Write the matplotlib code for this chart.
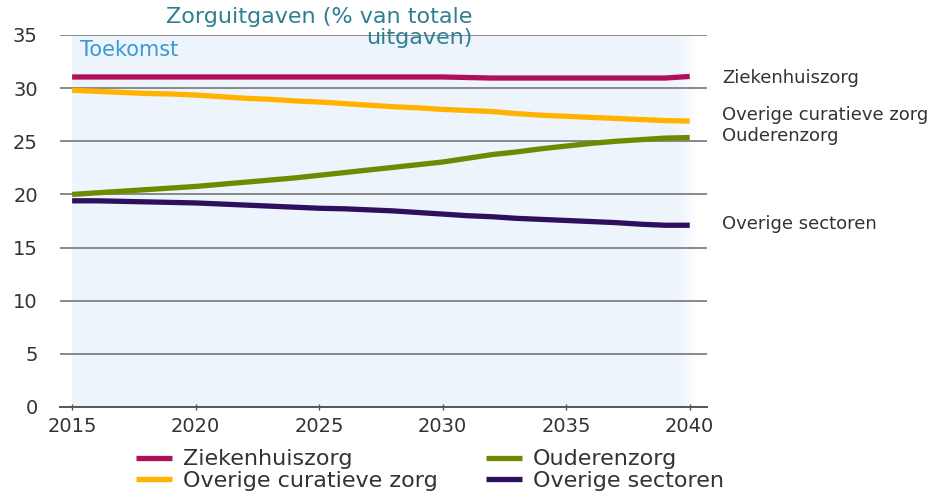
import numpy as np
import matplotlib
matplotlib.use("Agg")
import matplotlib.pyplot as plt

# data
years = list(range(2015, 2041))
ziekenhuiszorg = [31.05, 31.05, 31.05, 31.05, 31.05, 31.05, 31.05, 31.05, 31.05, 31.05,
                  31.05, 31.05, 31.05, 31.05, 31.05, 31.05, 31.0, 30.95, 30.95, 30.95,
                  30.95, 30.95, 30.95, 30.95, 30.95, 31.1]
overige_curatief = [29.8, 29.7, 29.6, 29.5, 29.45, 29.35, 29.2, 29.05, 28.95, 28.8,
                    28.7, 28.55, 28.4, 28.25, 28.15, 28.0, 27.9, 27.8, 27.6, 27.45,
                    27.35, 27.25, 27.15, 27.05, 26.95, 26.9]
ouderenzorg = [20.0, 20.15, 20.3, 20.45, 20.6, 20.75, 20.95, 21.15, 21.35, 21.55,
               21.8, 22.05, 22.3, 22.55, 22.8, 23.05, 23.4, 23.75, 24.0, 24.3,
               24.55, 24.8, 25.0, 25.15, 25.3, 25.35]
overige_sectoren = [19.4, 19.4, 19.35, 19.3, 19.25, 19.2, 19.1, 19.0, 18.9, 18.8,
                    18.7, 18.65, 18.55, 18.45, 18.3, 18.15, 18.0, 17.9, 17.75, 17.65,
                    17.55, 17.45, 17.35, 17.2, 17.1, 17.1]

series = [
    ("Ziekenhuiszorg", ziekenhuiszorg, "#B0105A"),
    ("Overige curatieve zorg", overige_curatief, "#FFB300"),
    ("Ouderenzorg", ouderenzorg, "#6E8A00"),
    ("Overige sectoren", overige_sectoren, "#2E0F5E"),
]
# label y-positions for the right-hand annotations
label_y = [31.0, 27.5, 25.5, 17.2]

x_ticks = [2015, 2020, 2025, 2030, 2035, 2040]
y_ticks = [0, 5, 10, 15, 20, 25, 30, 35]

plt.rcParams['font.family'] = ['DejaVu Sans']
text_col = "#333333"

fig = plt.figure(figsize=(9.44, 4.93), dpi=100)
ax = fig.add_axes([60 / 944, 1 - 407 / 493, 647 / 944, 372 / 493])
ax.set_xlim(2014.51, 2040.7)
ax.set_ylim(0, 35)
ax.set_facecolor("white")

# light blue "toekomst" band, fading out at the right
band = np.ones((2, 200))
fade = np.clip((2040.4 - np.linspace(2015, 2040.4, 200)) / 0.9, 0, 1)
band = band * fade
cmap = matplotlib.colors.LinearSegmentedColormap.from_list("b", ["white", "#EDF4FC"])
ax.imshow(band, extent=(2015, 2040.4, 0, 35), aspect="auto", cmap=cmap,
          vmin=0, vmax=1, zorder=0, interpolation="bilinear")

for yv in y_ticks[1:]:
    ax.axhline(yv, color="#767676", lw=1.2, zorder=1)

for (name, vals, col), ly in zip(series, label_y):
    ax.plot(years, vals, color=col, lw=3.8, label=name, zorder=3,
            solid_capstyle="butt")
    ax.text(2041.3, ly, name, fontsize=13, color=text_col, va="center",
            ha="left", clip_on=False)

for s in ["top", "right", "left"]:
    ax.spines[s].set_visible(False)
ax.spines["bottom"].set_color("#555555")
ax.spines["bottom"].set_linewidth(1.4)

ax.set_xticks(x_ticks)
ax.set_xticklabels([str(x) for x in x_ticks])
ax.set_yticks(y_ticks)
ax.tick_params(axis="x", direction="inout", length=5, width=1, color="#555555",
               labelsize=14, labelcolor=text_col, pad=5)
ax.tick_params(axis="y", length=0, labelsize=14, labelcolor=text_col, pad=16)

fig.text(472 / 944, 1 - 17 / 493, "Zorguitgaven (% van totale", fontsize=16,
         color="#2E7F92", ha="right", va="center")
fig.text(472 / 944, 1 - 38 / 493, "uitgaven)", fontsize=16,
         color="#2E7F92", ha="right", va="center")
fig.text(80 / 944, 1 - 50 / 493, "Toekomst", fontsize=15,
         color="#3A9AD2", ha="left", va="center")

handles, labels = ax.get_legend_handles_labels()
fig.legend(handles, labels, ncol=2, loc="center",
           bbox_to_anchor=(430 / 944, 1 - 470 / 493), frameon=False,
           fontsize=16, handlelength=1.6, handletextpad=0.5,
           columnspacing=2.2, labelspacing=0.05, borderpad=0,
           labelcolor=text_col)

fig.savefig("out.png", dpi=100)
